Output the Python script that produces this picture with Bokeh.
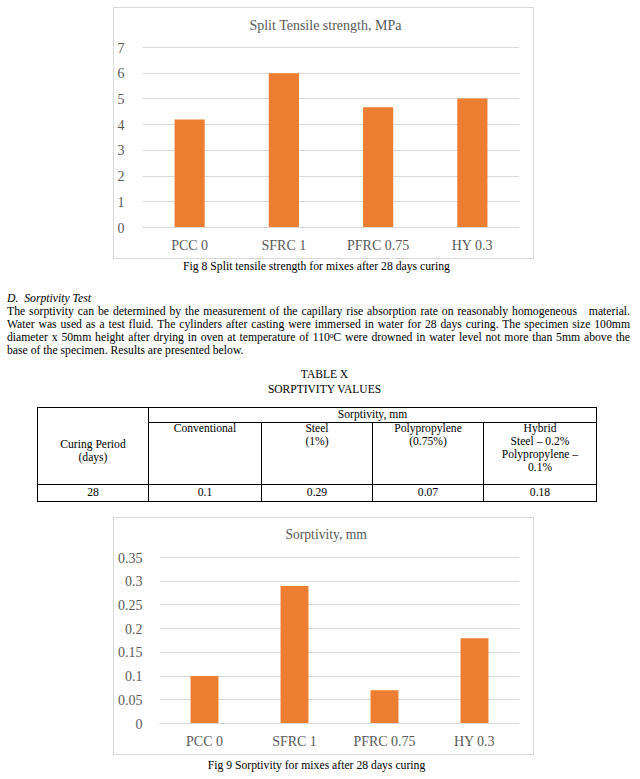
from bokeh.plotting import figure
from bokeh.models import (Div, Spacer, Label, FixedTicker, Range1d, FactorRange,
                          ColumnDataSource, CustomJSTickFormatter)
from bokeh.layouts import column, row
from bokeh.embed import file_html
from bokeh.resources import INLINE

# ---------------- data ----------------
mixes = ["PCC 0", "SFRC 1", "PFRC 0.75", "HY 0.3"]
tensile = [4.2, 6.0, 4.68, 5.02]
tensile_ticks = [0, 1, 2, 3, 4, 5, 6, 7]
tensile_tick_labels = ["0", "1", "2", "3", "4", "5", "6", "7"]
sorptivity = [0.1, 0.29, 0.07, 0.18]
sorp_ticks = [0, 0.05, 0.1, 0.15, 0.2, 0.25, 0.3, 0.35]
sorp_tick_labels = ["0", "0.05", "0.1", "0.15", "0.2", "0.25", "0.3", "0.35"]
fiber_types = [["Conventional"], ["Steel", "(1%)"], ["Polypropylene", "(0.75%)"],
               ["Hybrid", "Steel \u2013 0.2%", "Polypropylene \u2013", "0.1%"]]
curing_days = [28]

title1 = "Split Tensile strength, MPa"
title2 = "Sorptivity, mm"
caption1 = "Fig 8 Split tensile strength for mixes after 28 days curing"
caption2 = "Fig 9 Sorptivity for mixes after 28 days curing"
heading = "D.&nbsp; Sorptivity Test"
para_lines = [
    "The sorptivity can be determined by the measurement of the capillary rise absorption rate on reasonably homogeneous&nbsp;&nbsp; material.",
    "Water was used as a test fluid. The cylinders after casting were immersed in water for 28 days curing. The specimen size 100mm",
    "diameter x 50mm height after drying in oven at temperature of 110<span style=\"font-size:7px;vertical-align:3px;line-height:0\">0</span>C were drowned in water level not more than 5mm above the",
    "base of the specimen. Results are presented below.",
]
table_title = ["TABLE X", "SORPTIVITY VALUES"]

SERIF = "Liberation Serif"
CSS_SERIF = "'Liberation Serif', 'Times New Roman', serif"
ORANGE = "#ED7D31"
GRID = "#D9D9D9"
LABEL = "#595959"


def make_chart(values, ticks, tick_labels, title, title_size, height, mb_left,
               ymax, bar_width, y_standoff, title_gap):
    W = 419
    mb_right, mb_bottom = 14, 31
    value_top = 39            # px from the figure top to the top tick
    value_h = height - value_top - mb_bottom
    per_px = ymax / value_h
    # the frame reaches the top of the box so that the title sits inside it
    y_end = ymax + value_top * per_px
    p = figure(x_range=FactorRange(factors=mixes), y_range=Range1d(0, y_end),
               width=W, height=height, output_backend="svg", toolbar_location=None,
               tools="", min_border_left=mb_left, min_border_right=mb_right,
               min_border_top=0, min_border_bottom=mb_bottom)
    src = ColumnDataSource(dict(mix=mixes, value=values))
    p.vbar(x="mix", top="value", width=bar_width, source=src,
           fill_color=ORANGE, line_color=None)
    ticker = FixedTicker(ticks=ticks)
    fmt = CustomJSTickFormatter(args=dict(tvals=ticks, tlabels=tick_labels), code="""
        for (let i = 0; i < tvals.length; i++) {
            if (Math.abs(tvals[i] - tick) < 1e-9) { return tlabels[i]; }
        }
        return String(tick);
    """)
    p.yaxis.ticker = ticker
    p.yaxis.formatter = fmt
    p.yaxis.axis_line_color = None
    p.yaxis.major_tick_line_color = None
    p.yaxis.minor_tick_line_color = None
    p.yaxis.major_label_standoff = y_standoff
    p.xaxis.axis_line_color = GRID
    p.xaxis.major_tick_line_color = None
    p.xaxis.minor_tick_line_color = None
    p.xaxis.major_label_standoff = 4
    for ax in (p.xaxis, p.yaxis):
        ax.major_label_text_font = SERIF
        ax.major_label_text_font_size = "14px"
        ax.major_label_text_color = LABEL
    p.xgrid.grid_line_color = None
    p.ygrid.grid_line_color = GRID
    p.ygrid.ticker = ticker
    p.outline_line_color = None
    p.background_fill_color = "white"
    p.border_fill_color = "white"
    # chart title centred in the chart box
    frame_w = W - mb_left - mb_right
    tx = (W / 2 - mb_left) / frame_w * len(mixes)
    ty = ymax + title_gap * per_px
    p.add_layout(Label(x=tx, y=ty, text=title, text_align="center",
                       text_baseline="middle", text_font=SERIF,
                       text_font_size=title_size, text_color=LABEL))
    p.styles = {"outline": "1px solid #D9D9D9"}
    return p


p1 = make_chart(tensile, tensile_ticks, tensile_tick_labels, title1, "14px",
                250, 25, 7, 0.32, 12, 22)
p2 = make_chart(sorptivity, sorp_ticks, sorp_tick_labels, title2, "13.6px",
                236, 41, 0.35, 0.31, 11, 22.7)


def caption_div(text, shift):
    html = (f'<div style="width:633px;text-align:center;font-family:{CSS_SERIF};'
            f'font-size:11.7px;line-height:17px;color:#000;position:relative;top:{shift}px">{text}</div>')
    return Div(text=html, width=633, height=17, margin=(0, 0, 0, 0))


# text block + table
line_css = "white-space:nowrap;text-align:justify;text-align-last:justify;width:623px;line-height:13px;"
last_css = "white-space:nowrap;line-height:13px;"
para_html = "".join(
    f'<div style="{line_css if i < len(para_lines) - 1 else last_css}">{ln}</div>'
    for i, ln in enumerate(para_lines))

cell = "border:1px solid #000;padding:0;text-align:center;"
col_w = [111, 113, 111, 111, 113]
rows_html = []
rows_html.append(
    '<tr style="height:15.6px">'
    f'<td rowspan="2" style="{cell}vertical-align:middle;padding-top:12px">Curing Period<br>(days)</td>'
    f'<td colspan="{len(fiber_types)}" style="{cell}vertical-align:middle">Sorptivity, mm</td></tr>')
rows_html.append(
    '<tr style="height:62px">' +
    "".join(f'<td style="{cell}vertical-align:top">{"<br>".join(lines)}</td>' for lines in fiber_types) +
    '</tr>')
rows_html.append(
    '<tr style="height:16.7px">' + f'<td style="{cell}">{curing_days[0]}</td>' +
    "".join(f'<td style="{cell}">{v}</td>' for v in sorptivity) + '</tr>')
table_html = (
    f'<table style="border-collapse:collapse;table-layout:fixed;width:{sum(col_w)}px;'
    f'margin-left:37px;margin-top:8.6px;font-family:{CSS_SERIF};font-size:11.6px;line-height:12.85px;color:#000">'
    + "<colgroup>" + "".join(f'<col style="width:{w}px">' for w in col_w) + "</colgroup>"
    + "".join(rows_html) + "</table>")

title_html = "".join(
    f'<div style="text-align:center;padding-left:17px;line-height:15.6px;font-size:11.5px">{t}</div>'
    for t in table_title)

block_html = (
    f'<div style="font-family:{CSS_SERIF};font-size:11.7px;color:#000;width:632px">'
    f'<div style="padding-left:7px">'
    f'<div style="padding-top:16.8px;line-height:13px;font-style:italic">{heading}</div>'
    f'{para_html}</div>'
    f'<div style="margin-top:10.1px">{title_html}</div>'
    f'{table_html}</div>')
text_div = Div(text=block_html, width=632, height=243, margin=(0, 0, 0, 0))

layout = column(
    Spacer(width=10, height=8),
    row(Spacer(width=114, height=250), p1),
    caption_div(caption1, 0),
    text_div,
    row(Spacer(width=114, height=236), p2),
    caption_div(caption2, 3),
)

open("out.html", "w").write(file_html(layout, INLINE))
